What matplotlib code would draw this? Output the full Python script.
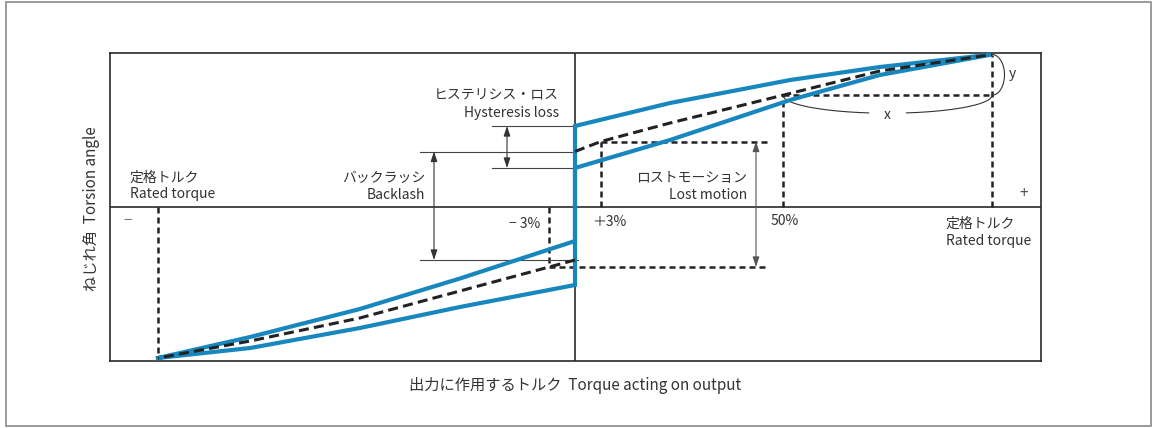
import numpy as np
import matplotlib
matplotlib.use('Agg')
import matplotlib.pyplot as plt
from matplotlib.patches import Rectangle

plt.rcParams['font.family'] = ['Noto Sans CJK JP', 'DejaVu Sans']

# ---------------- data (torque in % of rated, torsion angle in arbitrary units) ----
torque_upper_r = [0, 22.8, 51.6, 73.1, 100]
angle_upper_r = [80.5, 103.5, 126.5, 139.5, 152]
torque_lower_r = [0, 22.8, 51.6, 73.1, 100]
angle_lower_r = [38.5, 66.5, 106.5, 131.5, 152]
torque_upper_l = [0, -27.6, -51.6, -77.9, -100]
angle_upper_l = [-34.5, -72, -102.5, -130.5, -151.5]
torque_lower_l = [0, -27.6, -51.6, -77.9, -100]
angle_lower_l = [-78.5, -100.5, -121.5, -141.5, -151.5]
torque_mean_r = [0, 6.2, 22.8, 49.9, 73.1, 100]
angle_mean_r = [55, 65, 83.5, 111.3, 135.5, 152]
torque_mean_l = [0, -6.2, -27.6, -51.6, -77.9, -100]
angle_mean_l = [-53.5, -60.5, -84.5, -111.5, -134.5, -151.5]

rated = 100
half_rated = 49.9
lm_torque = 6.2          # "±3%" point

x_label = '出力に作用するトルク  Torque acting on output'
y_label = 'ねじれ角  Torsion angle'

# ---------------- layout helpers ----------------
W, H = 1154, 428
X0, SX, Y0 = 575, 4.17, 206.5
def px(x):
    return (x - X0) / SX
def py(y):
    return Y0 - y

BLUE = '#1787bd'
TC = '#333333'
DK = '#222222'

fig = plt.figure(figsize=(W / 100, H / 100), dpi=100)
fig.add_artist(Rectangle((6 / W, 1 - 426 / H), (1151 - 6) / W, (426 - 2) / H,
                         transform=fig.transFigure, fill=False, ec='#8a8a8a', lw=1.2))

ax = fig.add_axes([110 / W, 1 - 361 / H, (1041 - 110) / W, (361 - 52.7) / H])
ax.set_xlim(px(110), px(1041))
ax.set_ylim(py(361), py(52.7))
ax.set_xticks([]); ax.set_yticks([])
for s in ax.spines.values():
    s.set_color('#2a2a2a'); s.set_linewidth(1.2)
ax.axhline(0, color='#2a2a2a', lw=1.2, zorder=1)
ax.axvline(0, color='#2a2a2a', lw=1.2, zorder=1)

# ---------------- reference (short dashed) lines ----------------
ref_kw = dict(color=DK, lw=1.8, linestyle=(0, (2.4, 1.6)), zorder=2, clip_on=False)
ax.plot([torque_mean_l[-1]] * 2, [0, angle_mean_l[-1]], **ref_kw)
ax.plot([rated] * 2, [0, angle_mean_r[-1]], **ref_kw)
ax.plot([half_rated] * 2, [0, angle_mean_r[3]], **ref_kw)
ax.plot([half_rated, rated], [angle_mean_r[3]] * 2, **ref_kw)
lm_right = px(767)
ax.plot([lm_torque] * 2, [0, angle_mean_r[1]], **ref_kw)
ax.plot([lm_torque, lm_right], [angle_mean_r[1]] * 2, **ref_kw)
ax.plot([-lm_torque] * 2, [0, angle_mean_l[1]], **ref_kw)
ax.plot([-lm_torque, lm_right], [angle_mean_l[1]] * 2, **ref_kw)

# ---------------- hysteresis loop (blue) ----------------
loop_x = (torque_lower_l[::-1] + torque_upper_r + torque_lower_r[::-1] + torque_upper_l)
loop_y = (angle_lower_l[::-1] + angle_upper_r + angle_lower_r[::-1] + angle_upper_l)
ax.plot(loop_x, loop_y, color=BLUE, lw=3.0, solid_joinstyle='miter', zorder=4, clip_on=False)

# ---------------- mean curve (black dashed) ----------------
dash_kw = dict(color='#222222', lw=2.2, linestyle=(0, (3.3, 1.7)), zorder=5, clip_on=False)
ax.plot(torque_mean_r, angle_mean_r, **dash_kw)
ax.plot(torque_mean_l, angle_mean_l, **dash_kw)

# ---------------- thin annotation lines & arrows ----------------
thin = dict(color='#444444', lw=0.8, zorder=3)
arrow = dict(arrowstyle='<|-|>,head_length=0.6,head_width=0.2', color='#333333',
             lw=0.8, shrinkA=0, shrinkB=0, mutation_scale=10)
# hysteresis loss
for a in (angle_upper_r[0], angle_lower_r[0]):
    ax.plot([px(492), 0], [a, a], **thin)
ax.annotate('', xy=(px(507), angle_upper_r[0]), xytext=(px(507), angle_lower_r[0]),
            arrowprops=arrow)
# backlash
ax.plot([px(420), 0], [angle_mean_r[0], angle_mean_r[0]], **thin)
ax.plot([px(420), px(578)], [angle_mean_l[0], angle_mean_l[0]], **thin)
ax.annotate('', xy=(px(434), angle_mean_r[0]), xytext=(px(434), angle_mean_l[0]),
            arrowprops=arrow)
# lost motion
arrow_g = dict(arrow, color='#555555')
ax.annotate('', xy=(px(756), angle_mean_r[1]), xytext=(px(756), angle_mean_l[1]),
            arrowprops=arrow_g)

# x brace (half ellipse below the 50%-rated horizontal)
cx, hw = (half_rated + rated) / 2, (rated - half_rated) / 2
hh = 18
t = np.linspace(np.pi, 2 * np.pi, 200)
ex = cx + hw * np.cos(t)
ey = angle_mean_r[3] + hh * np.sin(t)
gap = np.abs(ex - cx) < 4.2
ex1 = np.where(gap, np.nan, ex)
ax.plot(ex1, ey, color='#333333', lw=0.8, zorder=3, clip_on=False)
ax.text(cx, angle_mean_r[3] - hh - 1.5, 'x', ha='center', va='center', fontsize=10, color=TC)
# y brace (half ellipse right of the rated vertical)
cy = (angle_mean_r[3] + angle_mean_r[-1]) / 2
t2 = np.linspace(-np.pi / 2, np.pi / 2, 200)
ax.plot(rated + 3.0 * np.cos(t2), cy + (angle_mean_r[-1] - cy) * np.sin(t2),
        color='#333333', lw=0.8, zorder=3, clip_on=False)
ax.text(px(1012), py(74), 'y', ha='center', va='center', fontsize=10, color=TC)

# ---------------- texts ----------------
fs = 10
def txt(x, y, s, ha='left', **kw):
    ax.text(px(x), py(y), s, ha=ha, va='baseline', fontsize=fs, color=TC, **kw)

txt(130, 182, '定格トルク')
txt(130, 198, 'Rated torque')
txt(425, 182, 'バックラッシ', ha='right')
txt(425, 199, 'Backlash', ha='right')
txt(559, 100, 'ヒステリシス・ロス', ha='right')
txt(559, 117, 'Hysteresis loss', ha='right')
txt(747, 182, 'ロストモーション', ha='right')
txt(747, 199, 'Lost motion', ha='right')
txt(540, 228, '− 3%', ha='right')
txt(592, 226, '＋3%')
txt(771, 225, '50%')
txt(946, 228, '定格トルク')
txt(946, 245, 'Rated torque')
ax.text(px(1024), py(193), '+', ha='center', va='center', fontsize=11, color='#555555')
ax.text(px(128), py(221), '−', ha='center', va='center', fontsize=11, color='#777777')

fig.text(575 / W, 1 - 385 / H, x_label, ha='center', va='center', fontsize=11, color=TC)
fig.text(91 / W, 1 - 209 / H, y_label, ha='center', va='center', fontsize=11,
         color=TC, rotation=90)

fig.savefig('out.png', dpi=100)
